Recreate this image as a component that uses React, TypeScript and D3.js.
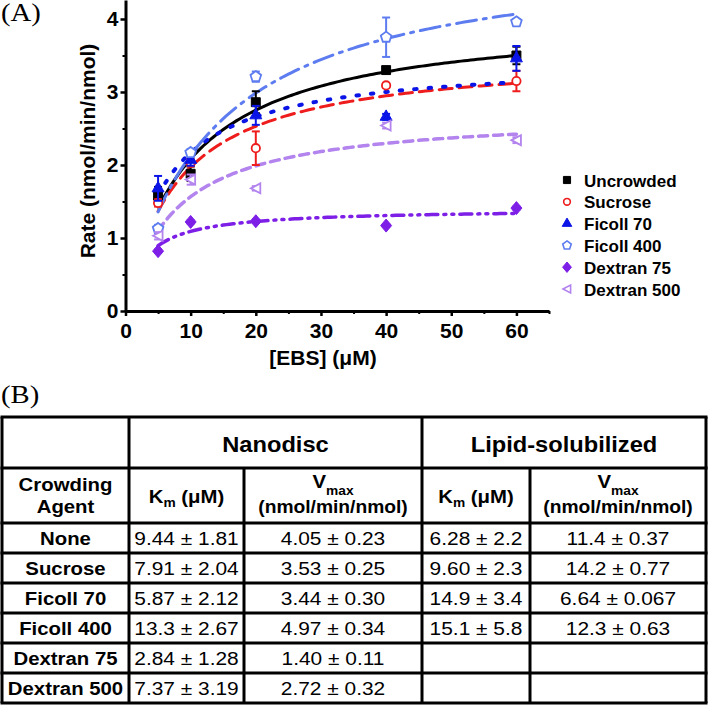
import React, { useEffect, useRef } from 'react'
import * as d3 from 'd3'

// EBS concentrations (µM)
const concentrations = [5, 10, 20, 40, 60]

const seriesNames = ['Uncrowded', 'Sucrose', 'Ficoll 70', 'Ficoll 400', 'Dextran 75', 'Dextran 500']

const uncrowdedRate = [1.58, 1.88, 2.86, 3.3, 3.5]
const uncrowdedErr = [0.12, 0.1, 0.15, 0.04, 0.12]
const sucroseRate = [1.48, 2.03, 2.23, 3.09, 3.15]
const sucroseErr = [0.05, 0.05, 0.23, 0.03, 0.14]
const ficoll70Rate = [1.68, 2.07, 2.68, 2.66, 3.46]
const ficoll70Err = [0.17, 0.08, 0.13, 0.04, 0.17]
const ficoll400Rate = [1.13, 2.17, 3.21, 3.75, 3.96]
const ficoll400Err = [0.05, 0.05, 0.07, 0.27, 0.04]
const dextran75Rate = [0.82, 1.22, 1.23, 1.17, 1.41]
const dextran75Err = [0.02, 0.02, 0.02, 0.02, 0.02]
const dextran500Rate = [1.03, 1.8, 1.68, 2.54, 2.34]
const dextran500Err = [0.05, 0.07, 0.03, 0.04, 0.04]

// Michaelis-Menten fit parameters (nanodisc), same as in table (B)
const nanodiscKm = [9.44, 7.91, 5.87, 13.3, 2.84, 7.37]
const nanodiscVmax = [4.05, 3.53, 3.44, 4.97, 1.4, 2.72]

const yTicks = [0, 1, 2, 3, 4]
const xTicks = [0, 10, 20, 30, 40, 50, 60]

// table (B) text
const tableAgents = ['None', 'Sucrose', 'Ficoll 70', 'Ficoll 400', 'Dextran 75', 'Dextran 500']
const nanodiscKmText = ['9.44 ± 1.81', '7.91 ± 2.04', '5.87 ± 2.12', '13.3 ± 2.67', '2.84 ± 1.28', '7.37 ± 3.19']
const nanodiscVmaxText = ['4.05 ± 0.23', '3.53 ± 0.25', '3.44 ± 0.30', '4.97 ± 0.34', '1.40 ± 0.11', '2.72 ± 0.32']
const lipidKmText = ['6.28 ± 2.2', '9.60 ± 2.3', '14.9 ± 3.4', '15.1 ± 5.8', '', '']
const lipidVmaxText = ['11.4 ± 0.37', '14.2 ± 0.77', '6.64 ± 0.067', '12.3 ± 0.63', '', '']

const rates = [uncrowdedRate, sucroseRate, ficoll70Rate, ficoll400Rate, dextran75Rate, dextran500Rate]
const errors = [uncrowdedErr, sucroseErr, ficoll70Err, ficoll400Err, dextran75Err, dextran500Err]

const styles = [
  { color: '#000000', dash: null, shape: 'square', filled: true, lw: 3 },
  { color: '#ee1c1c', dash: '13,7', shape: 'circle', filled: false, lw: 3 },
  { color: '#0a14e6', dash: '2.5,12', shape: 'triangle', filled: true, lw: 4 },
  { color: '#5d7cf0', dash: '20,7,3,7', shape: 'pentagon', filled: false, lw: 3 },
  { color: '#7d1fe6', dash: '12,6,2,6,2,6', shape: 'diamond', filled: true, lw: 3.5 },
  { color: '#b383ee', dash: '9,6', shape: 'left', filled: false, lw: 3.5 },
]

const W = 709
const H = 705
const SANS = 'Liberation Sans, Arial, Helvetica, sans-serif'
const SERIF = 'Liberation Serif, Times New Roman, serif'

function markerPath(shape: string, k = 1) {
  if (shape === 'square') return d3.symbol(d3.symbolSquare, 80 * k * k)()
  if (shape === 'circle') return d3.symbol(d3.symbolCircle, 55 * k * k)()
  if (shape === 'triangle') return d3.symbol(d3.symbolTriangle, 62 * k * k)()
  if (shape === 'diamond') return `M0,${-6.5 * k}L${5.5 * k},0L0,${6.5 * k}L${-5.5 * k},0Z`
  if (shape === 'left') return `M${-5 * k},0L${4.5 * k},${-5 * k}L${4.5 * k},${5 * k}Z`
  // pentagon
  const pts = d3.range(5).map((i) => {
    const a = -Math.PI / 2 + (i * 2 * Math.PI) / 5
    return [Math.cos(a) * 5.6 * k, Math.sin(a) * 5.6 * k]
  })
  return 'M' + pts.map((p) => p.join(',')).join('L') + 'Z'
}

export default function App() {
  const ref = useRef<SVGSVGElement | null>(null)

  useEffect(() => {
    const svg = d3.select(ref.current)
    svg.selectAll('*').remove()

    const x = d3.scaleLinear().domain([0, 65]).range([125.5, 549])
    const y = d3.scaleLinear().domain([0, 4.26]).range([311, 0])

    // panel labels
    svg.append('text').attr('transform', 'translate(1,21) scale(1.15,1)')
      .attr('font-family', SERIF).attr('font-size', 25).text('(A)')
    svg.append('text').attr('transform', 'translate(1,403) scale(1.15,1)')
      .attr('font-family', SERIF).attr('font-size', 25).text('(B)')

    // axes
    const styleAxis = (g: any) => {
      g.select('.domain').attr('stroke', '#000').attr('stroke-width', 3)
      g.selectAll('.tick line').attr('stroke', '#000').attr('stroke-width', 2.5)
      g.selectAll('.tick text').attr('font-family', SANS).attr('font-weight', 'bold')
        .attr('font-size', 21).attr('fill', '#000')
    }
    const yAxis = svg.append('g').attr('transform', `translate(${x(0)},0)`)
      .call(d3.axisLeft(y).tickValues(yTicks).tickSize(5).tickSizeOuter(0).tickPadding(2).tickFormat(d3.format('d')))
    styleAxis(yAxis)
    const yMinor = svg.append('g').attr('transform', `translate(${x(0)},0)`)
      .call(d3.axisLeft(y).tickValues([0.5, 1.5, 2.5, 3.5]).tickSize(3).tickFormat(() => ''))
    yMinor.select('.domain').remove()
    yMinor.selectAll('.tick line').attr('stroke-width', 2)

    const xAxis = svg.append('g').attr('transform', `translate(0,${y(0)})`)
      .call(d3.axisBottom(x).tickValues(xTicks).tickSize(5).tickSizeOuter(0).tickPadding(7))
    styleAxis(xAxis)
    const xMinor = svg.append('g').attr('transform', `translate(0,${y(0)})`)
      .call(d3.axisBottom(x).tickValues([5, 15, 25, 35, 45, 55, 65]).tickSize(3).tickFormat(() => ''))
    xMinor.select('.domain').remove()
    xMinor.selectAll('.tick line').attr('stroke-width', 2)

    // axis titles
    svg.append('text').attr('transform', 'translate(95,151) rotate(-90)')
      .attr('text-anchor', 'middle').attr('font-family', SANS).attr('font-weight', 'bold')
      .attr('font-size', 21).text('Rate (nmol/min/nmol)')
    svg.append('text').attr('x', 323).attr('y', 365)
      .attr('text-anchor', 'middle').attr('font-family', SANS).attr('font-weight', 'bold')
      .attr('font-size', 21).text('[EBS] (μM)')

    // fitted Michaelis-Menten curves
    const sGrid = d3.range(5, 60.01, 0.5)
    const line = d3.line<number>().x((s) => x(s))
    seriesNames.forEach((name, i) => {
      const st = styles[i]
      const vmax = nanodiscVmax[i]
      const km = nanodiscKm[i]
      svg.append('path')
        .datum(sGrid)
        .attr('d', line.y((s) => y((vmax * s) / (km + s))))
        .attr('fill', 'none')
        .attr('stroke', st.color)
        .attr('stroke-width', st.lw)
        .attr('stroke-dasharray', st.dash)
        .attr('stroke-linecap', st.dash ? 'round' : 'butt')
    })

    // error bars + markers
    seriesNames.forEach((name, i) => {
      const st = styles[i]
      const g = svg.append('g')
      concentrations.forEach((c, j) => {
        const v = rates[i][j]
        const e = errors[i][j]
        const cx = x(c)
        g.append('line').attr('x1', cx).attr('x2', cx).attr('y1', y(v - e)).attr('y2', y(v + e))
          .attr('stroke', st.color).attr('stroke-width', 2)
        ;[v - e, v + e].forEach((yy) => {
          g.append('line').attr('x1', cx - 4).attr('x2', cx + 4).attr('y1', y(yy)).attr('y2', y(yy))
            .attr('stroke', st.color).attr('stroke-width', 2)
        })
      })
      g.selectAll('path.mk')
        .data(concentrations)
        .enter()
        .append('path')
        .attr('class', 'mk')
        .attr('d', markerPath(st.shape))
        .attr('transform', (c, j) => `translate(${x(c)},${y(rates[i][j])})`)
        .attr('fill', st.filled ? st.color : '#fff')
        .attr('stroke', st.color)
        .attr('stroke-width', st.filled ? 1 : 1.8)
    })

    // legend
    const legend = svg.append('g').attr('transform', 'translate(567,180)')
    seriesNames.forEach((name, i) => {
      const st = styles[i]
      const row = legend.append('g').attr('transform', `translate(0,${i * 21.8})`)
      row.append('path').attr('d', markerPath(st.shape, 0.8))
        .attr('fill', st.filled ? st.color : '#fff').attr('stroke', st.color)
        .attr('stroke-width', st.filled ? 1 : 1.6)
      row.append('text').attr('x', 17).attr('y', 6.5)
        .attr('font-family', SANS).attr('font-weight', 'bold').attr('font-size', 17)
        .text(name)
    })

    // table (B)
    const tb = svg.append('g')
    const colX = [2, 129, 244, 422, 530, 706]
    const rowY = [417, 468, 523, 553, 583, 613, 643, 673, 703]
    const lineAttr = (sel: any) => sel.attr('stroke', '#000').attr('stroke-width', 3)
    rowY.forEach((yy) => tb.append('line').attr('x1', colX[0] - 1.5).attr('x2', colX[5] + 1.5)
      .attr('y1', yy).attr('y2', yy).call(lineAttr))
    ;[0, 1, 3, 5].forEach((k) => tb.append('line').attr('x1', colX[k]).attr('x2', colX[k])
      .attr('y1', rowY[0]).attr('y2', rowY[8]).call(lineAttr))
    ;[2, 4].forEach((k) => tb.append('line').attr('x1', colX[k]).attr('x2', colX[k])
      .attr('y1', rowY[1]).attr('y2', rowY[8]).call(lineAttr))

    const cellText = (cx: number, by: number, size: number, bold: boolean) =>
      tb.append('text').attr('transform', `translate(${cx},${by}) scale(1.1,1)`)
        .attr('text-anchor', 'middle').attr('font-family', SANS)
        .attr('font-weight', bold ? 'bold' : 'normal').attr('font-size', size)

    const mid = (a: number, b: number) => (colX[a] + colX[b]) / 2
    cellText(mid(1, 3), 452, 21.5, true).text('Nanodisc')
    cellText(mid(3, 5), 452, 21.5, true).text('Lipid-solubilized')

    cellText(mid(0, 1), 491, 18.5, true).text('Crowding')
    cellText(mid(0, 1), 513, 18.5, true).text('Agent')
    ;[1, 3].forEach((k) => {
      const t = cellText(mid(k, k + 1), 503, 18.5, true)
      t.append('tspan').text('K')
      t.append('tspan').attr('font-size', 12.5).attr('dy', 4).text('m')
      t.append('tspan').attr('dy', -4).text(' (μM)')
    })
    ;[2, 4].forEach((k) => {
      const t = cellText(mid(k, k + 1), 488, 18.5, true)
      t.append('tspan').text('V')
      t.append('tspan').attr('font-size', 12.5).attr('dy', 7).text('max')
      cellText(mid(k, k + 1), 513, 17.5, true).text('(nmol/min/nmol)')
    })

    tableAgents.forEach((agent, r) => {
      const by = (rowY[r + 2] + rowY[r + 3]) / 2 + 7
      cellText(mid(0, 1), by, 18.5, true).text(agent)
      cellText(mid(1, 2), by, 19, false).text(nanodiscKmText[r])
      cellText(mid(2, 3), by, 19, false).text(nanodiscVmaxText[r])
      cellText(mid(3, 4), by, 19, false).text(lipidKmText[r])
      cellText(mid(4, 5), by, 19, false).text(lipidVmaxText[r])
    })
  }, [])

  return (
    <svg
      ref={ref}
      width={W}
      height={H}
      style={{ position: 'absolute', left: 0, top: 0, background: '#fff' }}
    />
  )
}
